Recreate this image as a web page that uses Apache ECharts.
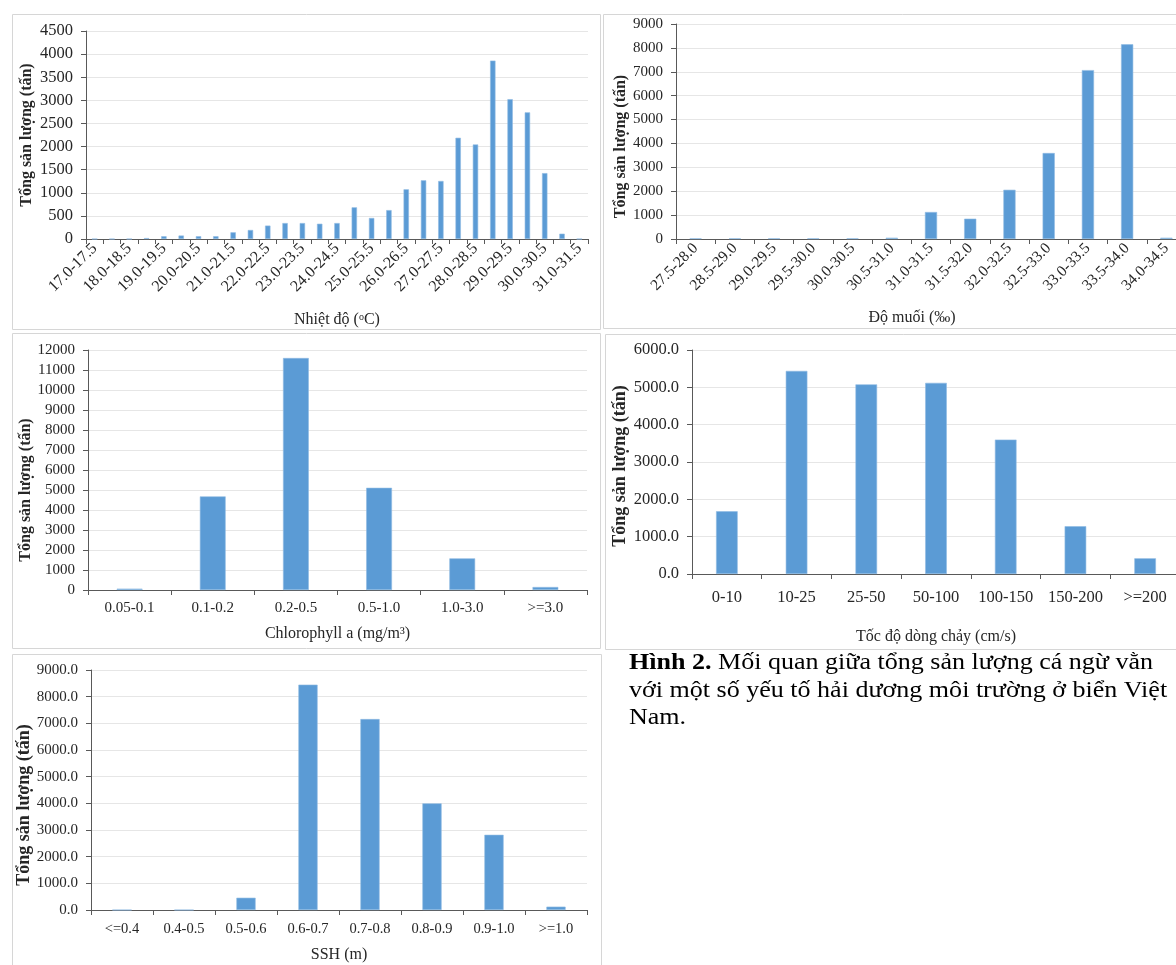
<!DOCTYPE html>
<html>
<head>
<meta charset="utf-8">
<script src="https://cdn.jsdelivr.net/npm/echarts@6/dist/echarts.min.js"></script>
<style>
  html, body { margin: 0; padding: 0; background: #ffffff; overflow: hidden; }
  #chart { width: 1200px; height: 965px; }
</style>
</head>
<body>
<div id="chart"></div>
<script>
// Sea surface temperature classes (°C)
const tempCats = ['17.0-17.5','17.5-18.0','18.0-18.5','18.5-19.0','19.0-19.5','19.5-20.0','20.0-20.5','20.5-21.0',
  '21.0-21.5','21.5-22.0','22.0-22.5','22.5-23.0','23.0-23.5','23.5-24.0','24.0-24.5','24.5-25.0','25.0-25.5',
  '25.5-26.0','26.0-26.5','26.5-27.0','27.0-27.5','27.5-28.0','28.0-28.5','28.5-29.0','29.0-29.5','29.5-30.0',
  '30.0-30.5','30.5-31.0','31.0-31.5'];
const tempVals = [0, 0, 0, 20, 60, 75, 60, 60, 145, 195, 290, 345, 345, 330, 345, 685, 455, 625,
  1075, 1270, 1255, 2190, 2045, 3860, 3025, 2740, 1425, 115, 0];

// Salinity classes (‰)
const salCats = ['27.5-28.0','28.5-29.0','29.0-29.5','29.5-30.0','30.0-30.5','30.5-31.0','31.0-31.5',
  '31.5-32.0','32.0-32.5','32.5-33.0','33.0-33.5','33.5-34.0','34.0-34.5'];
const salVals = [28, 28, 28, 28, 28, 55, 1130, 850, 2060, 3600, 7070, 8150, 55];

// Chlorophyll a classes (mg/m³)
const chlCats = ['0.05-0.1','0.1-0.2','0.2-0.5','0.5-1.0','1.0-3.0','>=3.0'];
const chlVals = [67, 4680, 11600, 5110, 1580, 150];

// Current speed classes (cm/s)
const curCats = ['0-10','10-25','25-50','50-100','100-150','150-200','>=200'];
const curVals = [1680, 5440, 5080, 5120, 3600, 1280, 420];

// Sea surface height classes (m)
const sshCats = ['<=0.4','0.4-0.5','0.5-0.6','0.6-0.7','0.7-0.8','0.8-0.9','0.9-1.0','>=1.0'];
const sshVals = [0, 0, 460, 8450, 7160, 4000, 2820, 125];

const yTitle = 'Tổng sản lượng (tấn)';

const FONT = '"Liberation Serif", "Times New Roman", Times, serif';
const TEXT = '#262626';
const AXIS = '#595959';
const GRIDLINE = '#e6e6e6';
const BAR = '#5b9bd5';

const panels = [
  { cats: tempCats, vals: tempVals, max: 4500, step: 500, decimals: 0,
    grid: { left: 86, top: 31, width: 502, height: 208 },
    yFont: 16.5, xFont: 16, rotate: 45, labelEvery: 1, xMargin: 7,
    xName: 'Nhiệt độ ({sup|o}C)', xNameGap: 73, xNameShift: 0,
    yNameGap: 51, yNameFont: 16, yNameShift: 0 },
  { cats: salCats, vals: salVals, max: 9000, step: 1000, decimals: 0,
    grid: { left: 676, top: 24, width: 510, height: 215 },
    yFont: 15, xFont: 15.5, rotate: 45, labelEvery: 0, xMargin: 7,
    xName: 'Độ muối (‰)', xNameGap: 71, xNameShift: 38,
    yNameGap: 46, yNameFont: 16, yNameShift: 30 },
  { cats: chlCats, vals: chlVals, max: 12000, step: 1000, decimals: 0,
    grid: { left: 88, top: 350, width: 499, height: 240 },
    yFont: 15, xFont: 15, rotate: 0, labelEvery: 0, xMargin: 11,
    xName: 'Chlorophyll a (mg/m³)', xNameGap: 36, xNameShift: 0,
    yNameGap: 51, yNameFont: 16, yNameShift: 40 },
  { cats: curCats, vals: curVals, max: 6000, step: 1000, decimals: 1,
    grid: { left: 692, top: 350, width: 488, height: 224 },
    yFont: 16.5, xFont: 16.5, rotate: 0, labelEvery: 0, xMargin: 15,
    xName: 'Tốc độ dòng chảy (cm/s)', xNameGap: 55, xNameShift: 0,
    yNameGap: 63, yNameFont: 18, yNameShift: 8 },
  { cats: sshCats, vals: sshVals, max: 9000, step: 1000, decimals: 1,
    grid: { left: 91, top: 670, width: 496, height: 240 },
    yFont: 15, xFont: 14.5, rotate: 0, labelEvery: 0, xMargin: 12,
    xName: 'SSH (m)', xNameGap: 37, xNameShift: 0,
    yNameGap: 57, yNameFont: 18, yNameShift: 30 }
];

// Light frames around each panel
const frames = [
  { x: 12.5, y: 14.5, w: 588, h: 315 },
  { x: 603.5, y: 14.5, w: 620, h: 314 },
  { x: 12.5, y: 333.5, w: 588, h: 315 },
  { x: 605.5, y: 334.5, w: 620, h: 315 },
  { x: 12.5, y: 654.5, w: 589, h: 330 }
];

const option = {
  animation: false,
  backgroundColor: '#ffffff',
  textStyle: { fontFamily: FONT },
  grid: panels.map(p => Object.assign({ containLabel: false }, p.grid)),
  xAxis: panels.map((p, i) => ({
    type: 'category',
    gridIndex: i,
    data: p.cats,
    axisLine: { show: true, lineStyle: { color: AXIS, width: 1 } },
    axisTick: { show: true, interval: 0, length: 5, lineStyle: { color: AXIS } },
    axisLabel: {
      interval: p.labelEvery, rotate: p.rotate, margin: p.xMargin,
      color: TEXT, fontFamily: FONT, fontSize: p.xFont
    },
    name: p.xName,
    nameLocation: 'middle',
    nameGap: p.xNameGap,
    nameTextStyle: {
      color: TEXT, fontFamily: FONT, fontSize: 16,
      padding: [0, p.xNameShift, 0, 0],
      rich: { sup: { fontFamily: FONT, fontSize: 10, color: TEXT, verticalAlign: 'top', lineHeight: 14 } }
    },
    splitLine: { show: false }
  })),
  yAxis: panels.map((p, i) => ({
    type: 'value',
    gridIndex: i,
    min: 0, max: p.max, interval: p.step,
    axisLine: { show: true, lineStyle: { color: AXIS, width: 1 } },
    axisTick: { show: true, length: 5, lineStyle: { color: AXIS } },
    axisLabel: {
      margin: 13, color: TEXT, fontFamily: FONT, fontSize: p.yFont,
      formatter: v => v.toFixed(p.decimals)
    },
    splitLine: { show: true, lineStyle: { color: GRIDLINE, width: 1 } },
    name: yTitle,
    nameLocation: 'middle',
    nameGap: p.yNameGap,
    nameRotate: 90,
    nameTextStyle: {
      color: TEXT, fontFamily: FONT, fontSize: p.yNameFont, fontWeight: 'bold',
      padding: p.yNameShift >= 0 ? [0, p.yNameShift, 0, 0] : [0, 0, 0, -p.yNameShift]
    }
  })),
  series: panels.map((p, i) => ({
    type: 'bar',
    xAxisIndex: i,
    yAxisIndex: i,
    data: p.vals,
    barWidth: '31%',
    itemStyle: { color: BAR, borderColor: '#8fbbe3', borderWidth: 0.6 }
  })),
  graphic: frames.map(f => ({
    type: 'rect',
    silent: true,
    z: -1,
    shape: { x: f.x, y: f.y, width: f.w, height: f.h },
    style: { fill: 'none', stroke: '#d6d6d6', lineWidth: 1 }
  })).concat([{
    type: 'text',
    x: 629,
    y: 649,
    scaleX: 1.085,
    style: {
      text: '{b|Hình 2.} Mối quan giữa tổng sản lượng cá ngừ vằn\nvới một số yếu tố hải dương môi trường ở biển Việt\nNam.',
      fontFamily: FONT,
      fontSize: 24,
      lineHeight: 27.5,
      fill: '#000000',
      rich: {
        b: { fontFamily: FONT, fontSize: 24, fontWeight: 'bold', lineHeight: 27.5, fill: '#000000' }
      }
    }
  }])
};

const chart = echarts.init(document.getElementById('chart'), null, { renderer: 'canvas' });
chart.setOption(option);
</script>
</body>
</html>
